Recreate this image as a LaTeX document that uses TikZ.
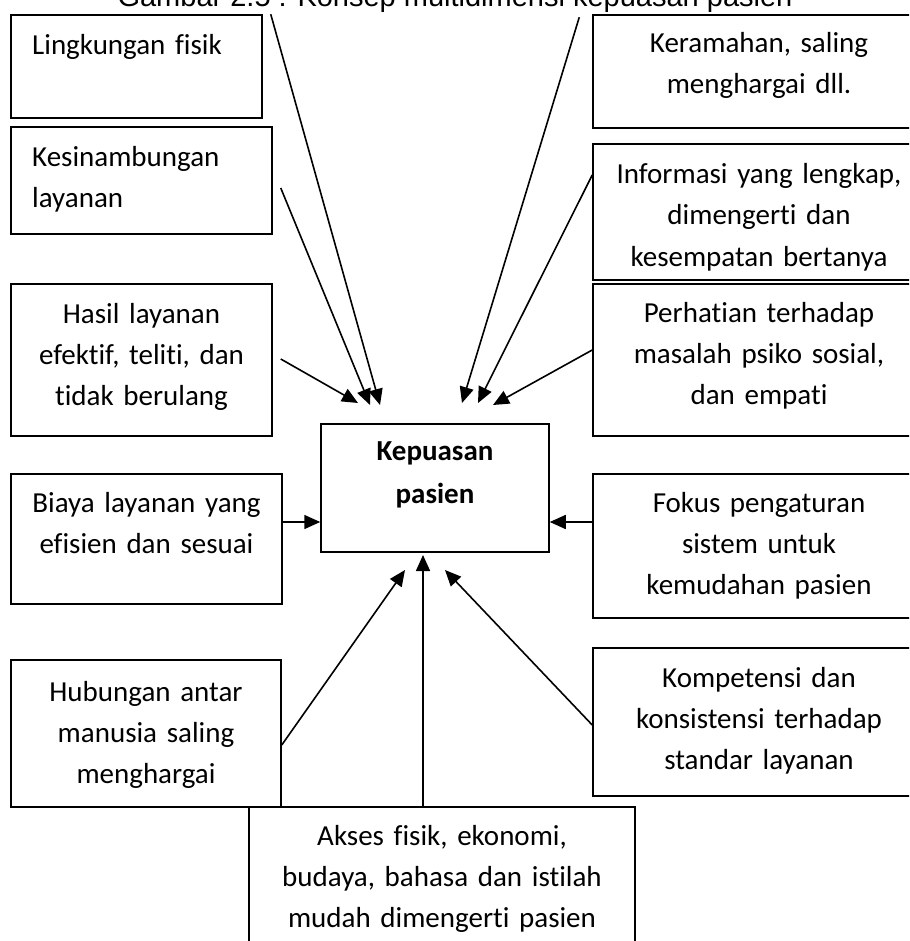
\documentclass[tikz,border=0pt]{standalone}
\usepackage{fontspec}
\setmainfont{Carlito}[Ligatures={NoCommon}]
\newfontfamily\judulfont{Liberation Sans}
\usetikzlibrary{arrows.meta}
\tikzset{
  kotak/.style={draw, line width=1.5pt, inner sep=0pt},
  teks/.style={font=\fontsize{29}{41}\selectfont, inner sep=0pt, text width=320pt, align=center, anchor=base},
  teksL/.style={font=\fontsize{29}{41}\selectfont, inner sep=0pt, text width=230pt, align=left, anchor=base west},
  panah/.style={line width=1.6pt, -{Triangle[length=16pt,width=14pt]}}
}
\begin{document}
\begin{tikzpicture}[x=1pt,y=-1pt]
\useasboundingbox (0,0) rectangle (909,941);
\clip (0,0) rectangle (909,941);
\node[font=\judulfont\fontsize{29}{35}\selectfont, inner sep=0pt, anchor=base] (judul) at (455,7) {Gambar 2.5 : Konsep multidimensi kepuasan pasien};
% kotak kiri
\node[kotak, minimum width=251pt, minimum height=103pt] (lk) at (136.5,66.5) {};
\node[kotak, minimum width=261pt, minimum height=107pt] (ks) at (141.5,180.5) {};
\node[kotak, minimum width=261pt, minimum height=152pt] (hs) at (141.5,360) {};
\node[kotak, minimum width=271pt, minimum height=130pt] (bi) at (146.5,539) {};
\node[kotak, minimum width=270pt, minimum height=147pt] (hb) at (146,733.5) {};
% kotak kanan
\node[kotak, minimum width=330pt, minimum height=113pt] (kr) at (758,71.5) {};
\node[kotak, minimum width=330pt, minimum height=136pt] (inf) at (758,212) {};
\node[kotak, minimum width=330pt, minimum height=152pt] (ph) at (758,360) {};
\node[kotak, minimum width=330pt, minimum height=144pt] (fk) at (758,546) {};
\node[kotak, minimum width=330pt, minimum height=148pt] (kp) at (758,722) {};
% tengah dan bawah
\node[kotak, minimum width=228pt, minimum height=128pt] (kep) at (435,488) {};
\node[kotak, minimum width=386pt, minimum height=152pt] (ak) at (442,883) {};
% teks
\node[teksL] (lk-t) at (32,55) {Lingkungan fisik};
\node[teksL] (ks-t) at (32,167) {Kesinambungan\\layanan};
\node[teks] (hs-t) at (141.5,323) {Hasil layanan\\efektif, teliti, dan\\tidak berulang};
\node[teks] (bi-t) at (146.5,512) {Biaya layanan yang\\efisien dan sesuai};
\node[teks] (hb-t) at (146,701) {Hubungan antar\\manusia saling\\menghargai};
\node[teks] (kr-t) at (759,53) {Keramahan, saling\\menghargai dll.};
\node[teks] (inf-t) at (759,184) {Informasi yang lengkap,\\dimengerti dan\\kesempatan bertanya};
\node[teks] (ph-t) at (759,322) {Perhatian terhadap\\masalah psiko sosial,\\dan empati};
\node[teks] (fk-t) at (759,512) {Fokus pengaturan\\sistem untuk\\kemudahan pasien};
\node[teks] (kp-t) at (759,687) {Kompetensi dan\\konsistensi terhadap\\standar layanan};
\node[teks, font=\fontsize{29}{43}\selectfont\bfseries] (kep-t) at (435,460) {Kepuasan\\pasien};
\node[teks] (ak-t) at (442,845) {Akses fisik, ekonomi,\\budaya, bahasa dan istilah\\mudah dimengerti pasien};
% ujung panah
\coordinate (u1) at (380,405);
\coordinate (u2) at (370,405);
\coordinate (u3) at (358,403);
\coordinate (u4) at (462,403);
\coordinate (u5) at (478,403);
\coordinate (u6) at (493,405);
\coordinate (u7) at (445,570);
\coordinate (u8) at (423,555);
\coordinate (u9) at (405,570);
% panah
\draw[panah] ([xshift=8pt]lk.north east) -- (u1);
\draw[panah] ([xshift=8pt,yshift=-7.5pt]ks.east) -- (u2);
\draw[panah] ([xshift=8pt,yshift=1pt]hs.east) -- (u3);
\draw[panah] ([xshift=-13pt,yshift=-3pt]kr.north west) -- (u4);
\draw[panah] ([yshift=37pt]inf.west) -- (u5);
\draw[panah] ([yshift=10pt]ph.west) -- (u6);
\draw[panah] ([yshift=17pt]bi.east) -- ([yshift=-34pt]kep.west);
\draw[panah] ([yshift=24pt]fk.west) -- ([yshift=-34pt]kep.east);
\draw[panah] ([yshift=-11.5pt]hb.east) -- (u9);
\draw[panah] ([xshift=-19pt]ak.north) -- (u8);
\draw[panah] ([yshift=-3pt]kp.west) -- (u7);
\end{tikzpicture}
\end{document}
